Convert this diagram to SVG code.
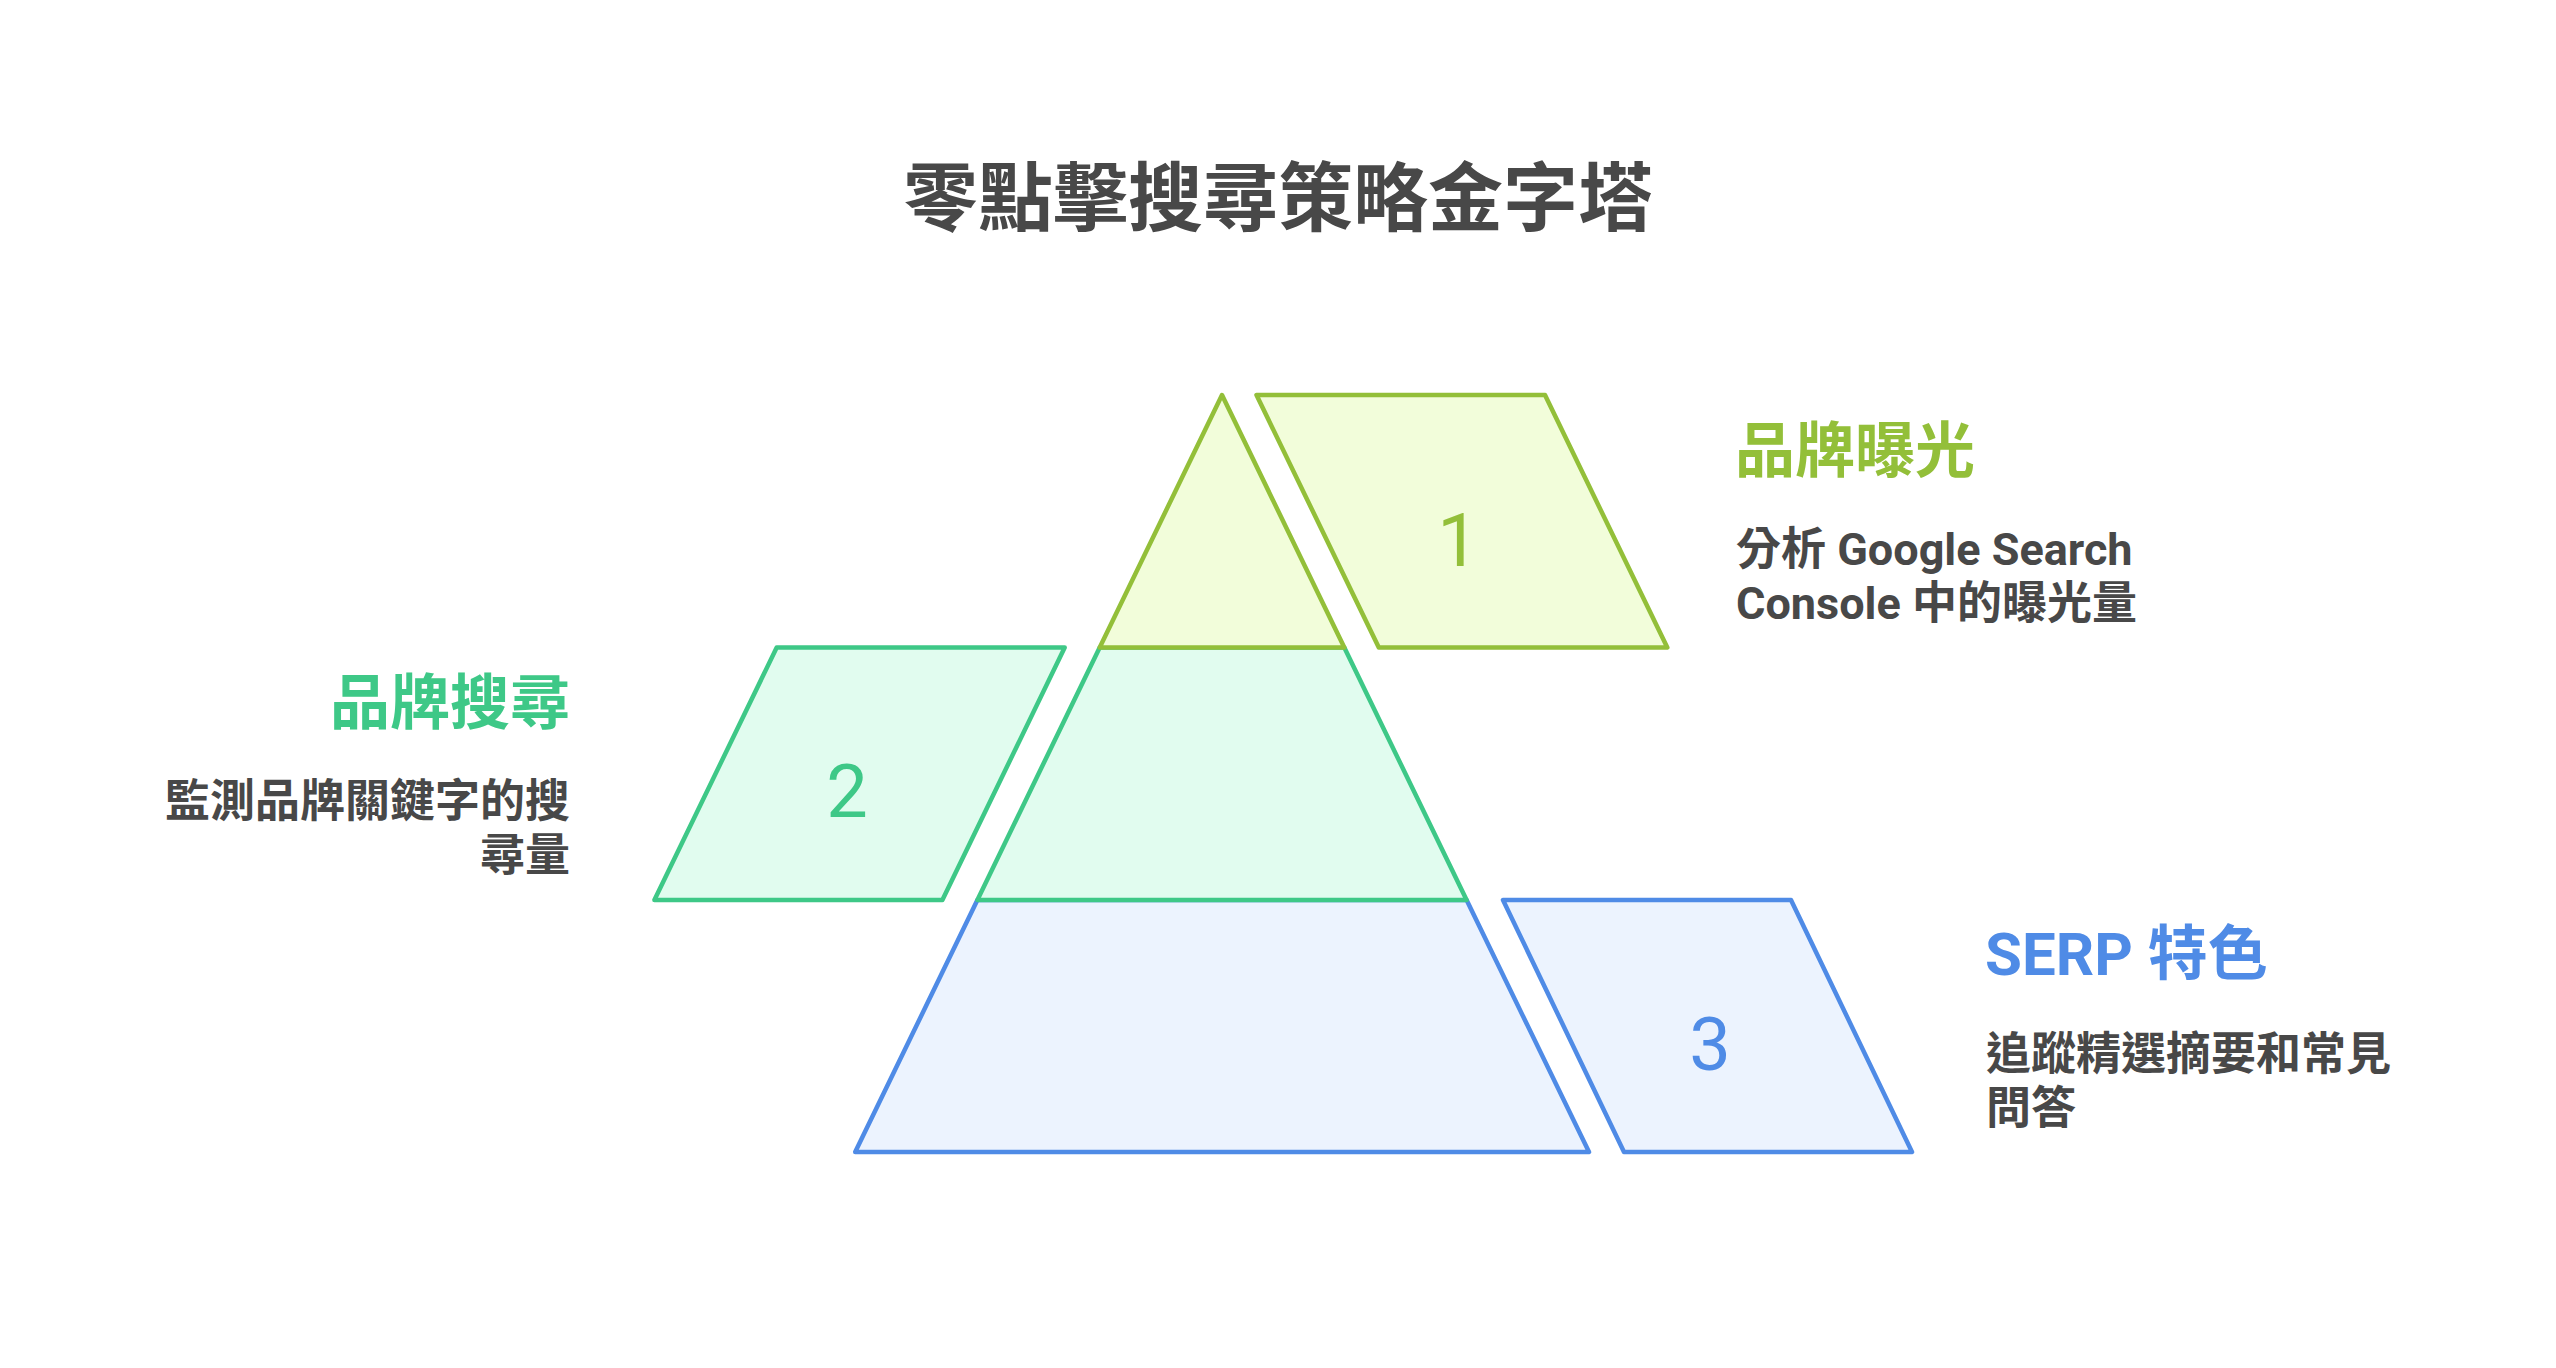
<svg xmlns="http://www.w3.org/2000/svg" width="2556" height="1368" viewBox="0 0 2556 1368">
<style>
text{font-family:Roboto,"Noto Sans CJK TC","Noto Sans",sans-serif}
.title{font-size:75px;font-weight:700;fill:#484848}
.head{font-size:60px;font-weight:700}
.desc{font-size:45px;font-weight:700;fill:#484848}
.num{font-size:74px;font-weight:400}
.shape{stroke-width:4.5;stroke-linejoin:round}
.g1{fill:#f2fdda;stroke:#93bf39}
.g2{fill:#e1fcef;stroke:#3ec887}
.g3{fill:#ecf3fe;stroke:#4f8be6}
.t1{fill:#93bf39}
.t2{fill:#3ec887}
.t3{fill:#4f8be6}
</style>
<rect width="2556" height="1368" fill="#ffffff"/>
<g id="title">
<text class="title" x="1278" y="225" text-anchor="middle">零點擊搜尋策略金字塔</text>
</g>
<g id="layer3">
<polygon class="shape g3" points="977.4,900 1466.6,900 1589,1152 855.2,1152"/>
<polygon class="shape g3" points="1503,900 1791,900 1912,1152 1624,1152"/>
<text class="num t3" x="1710" y="1070" text-anchor="middle">3</text>
<text class="head t3" x="1985" y="975">SERP 特色</text>
<text class="desc" x="1986" y="1070">追蹤精選摘要和常見</text>
<text class="desc" x="1986" y="1124">問答</text>
</g>
<g id="layer2">
<polygon class="shape g2" points="1099.7,647.5 1344.3,647.5 1466.6,900 977.4,900"/>
<polygon class="shape g2" points="776.7,647.5 1064.7,647.5 942.4,900 654.4,900"/>
<text class="num t2" x="847" y="817" text-anchor="middle">2</text>
<text class="head t2" x="570" y="724" text-anchor="end">品牌搜尋</text>
<text class="desc" x="570" y="817" text-anchor="end">監測品牌關鍵字的搜</text>
<text class="desc" x="570" y="871" text-anchor="end">尋量</text>
</g>
<g id="layer1">
<polygon class="shape g1" points="1222,395 1344.3,647.5 1099.7,647.5"/>
<polygon class="shape g1" points="1256.5,395 1545,395 1667.3,647.5 1378.8,647.5"/>
<text class="num t1" x="1458" y="566" text-anchor="middle">1</text>
<text class="head t1" x="1735" y="472">品牌曝光</text>
<text class="desc" x="1736" y="565">分析 Google Search</text>
<text class="desc" x="1736" y="619">Console 中的曝光量</text>
</g>
<g id="connectors"></g>
</svg>
